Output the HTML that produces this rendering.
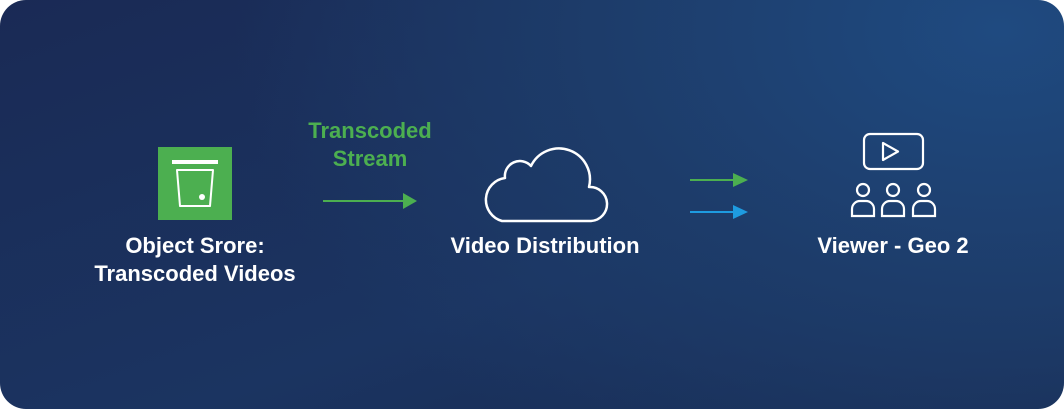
<!DOCTYPE html>
<html><head><style>
html,body{margin:0;padding:0;background:#fff;}
.bg{position:absolute;left:0;top:0;width:1064px;height:409px;border-radius:26px;
background:radial-gradient(ellipse 900px 600px at 1000px 30px,#1f4a80 0%,#1d3c6a 45%,rgba(27,45,85,0) 85%),linear-gradient(160deg,#1a2a55,#1b3461 60%,#182a50);overflow:hidden;}
.t{position:absolute;font-family:"Liberation Sans",sans-serif;font-weight:bold;color:#fff;font-size:22px;text-align:center;line-height:28px;}
</style></head><body>
<div class="bg"></div>
<svg width="1064" height="409" style="position:absolute;left:0;top:0">
<rect x="158" y="147" width="74" height="73" fill="#4caf50"/>
<rect x="172" y="160" width="46" height="4" fill="#fff"/>
<path d="M177 170 H213 L210 206 H180 Z" fill="none" stroke="#fff" stroke-width="2" stroke-linejoin="round"/>
<circle cx="202" cy="197" r="3" fill="#fff"/>
<line x1="323" y1="201" x2="405" y2="201" stroke="#4caf50" stroke-width="2"/>
<polygon points="403,193 417,201 403,209" fill="#4caf50"/>
<path d="M502 221 H591 A17 17 0 0 0 589 187 A31 31 0 0 0 531 166 A15 15 0 0 0 505 178 A22 22 0 0 0 502 221 Z" fill="none" stroke="#fff" stroke-width="2.5" stroke-linejoin="round"/>
<line x1="690" y1="180" x2="736" y2="180" stroke="#4caf50" stroke-width="2"/>
<polygon points="733,173 748,180 733,187" fill="#4caf50"/>
<line x1="690" y1="212" x2="736" y2="212" stroke="#1e9be0" stroke-width="2"/>
<polygon points="733,205 748,212 733,219" fill="#1e9be0"/>
<rect x="864" y="134" width="59" height="35" rx="6" fill="none" stroke="#fff" stroke-width="2.2"/>
<path d="M883 143 V160 L898 151.5 Z" fill="none" stroke="#fff" stroke-width="2.2" stroke-linejoin="round"/>
<g fill="none" stroke="#fff" stroke-width="2.2">
<circle cx="863" cy="190" r="6"/><circle cx="893" cy="190" r="6"/><circle cx="924" cy="190" r="6"/>
<path d="M852 216 V209 A8 8 0 0 1 860 201 H866 A8 8 0 0 1 874 209 V216 Z"/>
<path d="M882 216 V209 A8 8 0 0 1 890 201 H896 A8 8 0 0 1 904 209 V216 Z"/>
<path d="M913 216 V209 A8 8 0 0 1 921 201 H927 A8 8 0 0 1 935 209 V216 Z"/>
</g>
</svg>
<div class="t" style="left:270px;top:117px;width:200px;color:#4caf50;">Transcoded<br>Stream</div>
<div class="t" style="left:45px;top:232px;width:300px;">Object Srore:<br>Transcoded Videos</div>
<div class="t" style="left:395px;top:232px;width:300px;">Video Distribution</div>
<div class="t" style="left:743px;top:232px;width:300px;">Viewer - Geo 2</div>
</body></html>
